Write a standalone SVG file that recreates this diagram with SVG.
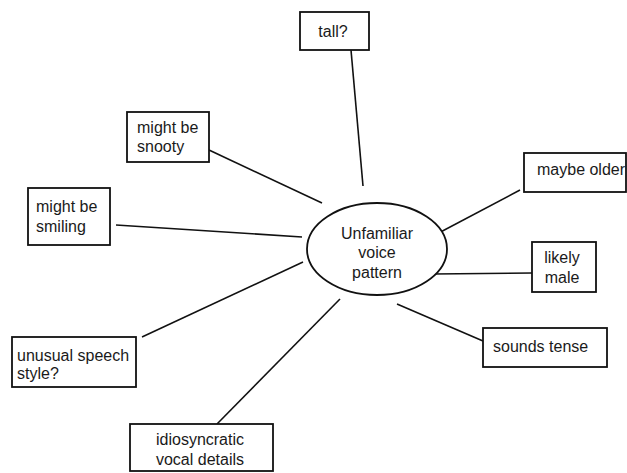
<svg xmlns="http://www.w3.org/2000/svg" width="627" height="473" viewBox="0 0 627 473">
<style>
.box{fill:#fff;stroke:#111;stroke-width:1.8}
.ell{fill:#fff;stroke:#111;stroke-width:1.8}
.t{font-family:"Liberation Sans",Arial,sans-serif;font-size:16px;fill:#1a1a1a}
.c{text-anchor:middle}
.ln{stroke:#111;stroke-width:1.6;fill:none}
</style>
<rect width="627" height="473" fill="#fff"/>
<g id="connectors">
<line class="ln" x1="351" y1="50" x2="363" y2="186"/>
<line class="ln" x1="209" y1="150" x2="322" y2="203"/>
<line class="ln" x1="116" y1="225" x2="302" y2="237"/>
<line class="ln" x1="142" y1="337" x2="303" y2="262"/>
<line class="ln" x1="217" y1="424" x2="340" y2="299"/>
<line class="ln" x1="397" y1="304" x2="483" y2="341"/>
<line class="ln" x1="433" y1="274" x2="532" y2="273"/>
<line class="ln" x1="433" y1="236" x2="520" y2="190"/>
</g>
<g id="center">
<ellipse class="ell" cx="377" cy="249" rx="70" ry="46"/>
<text class="t c" x="377" y="239">Unfamiliar</text>
<text class="t c" x="377" y="258">voice</text>
<text class="t c" x="377" y="278">pattern</text>
</g>
<g id="tall">
<rect class="box" x="300" y="12" width="69" height="38"/>
<text class="t c" x="333" y="37">tall?</text>
</g>
<g id="snooty">
<rect class="box" x="127" y="112" width="82" height="50"/>
<text class="t" x="137" y="133">might be</text>
<text class="t" x="137" y="152">snooty</text>
</g>
<g id="smiling">
<rect class="box" x="28" y="188" width="82" height="57"/>
<text class="t" x="36" y="212">might be</text>
<text class="t" x="36" y="232">smiling</text>
</g>
<g id="older">
<rect class="box" x="524" y="153" width="102" height="39"/>
<text class="t" x="537" y="175">maybe older</text>
</g>
<g id="male">
<rect class="box" x="532" y="242" width="64" height="50"/>
<text class="t c" x="562" y="263">likely</text>
<text class="t c" x="562" y="283">male</text>
</g>
<g id="tense">
<rect class="box" x="483" y="328" width="124" height="39"/>
<text class="t" x="493" y="352">sounds tense</text>
</g>
<g id="unusual">
<rect class="box" x="12" y="337" width="124" height="50"/>
<text class="t" x="17" y="361">unusual speech</text>
<text class="t" x="17" y="379">style?</text>
</g>
<g id="idio">
<rect class="box" x="130" y="424" width="143" height="47"/>
<text class="t c" x="200" y="445">idiosyncratic</text>
<text class="t c" x="200" y="465">vocal details</text>
</g>
</svg>
